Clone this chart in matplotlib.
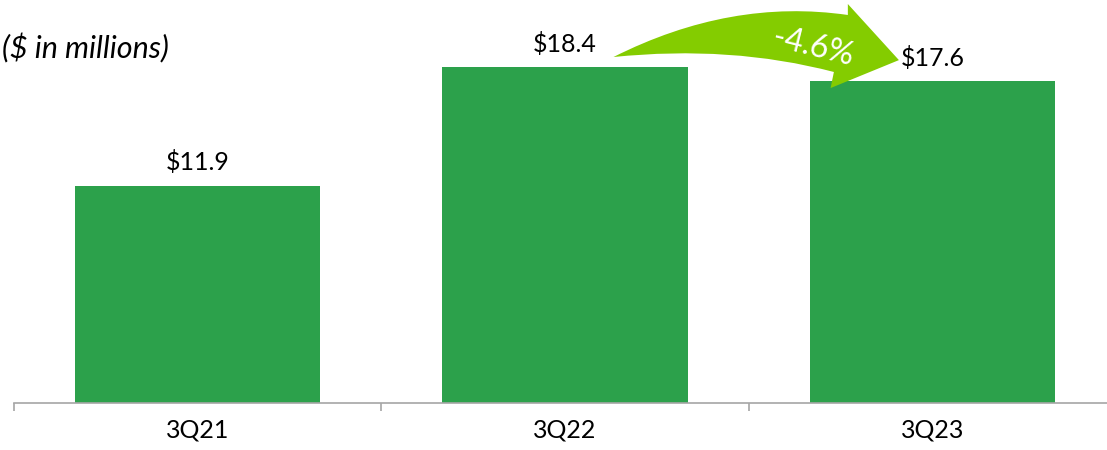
import matplotlib.pyplot as plt
from matplotlib.path import Path
from matplotlib.patches import PathPatch

quarters = ['3Q21', '3Q22', '3Q23']
revenue = [11.9, 18.4, 17.6]
value_labels = ['$11.9', '$18.4', '$17.6']
change_label = '-4.6%'

bar_green = '#2ca14b'
arrow_green = '#84cc00'

plt.rcParams['font.family'] = ['Lato', 'DejaVu Sans']

fig = plt.figure(figsize=(11.07, 4.5), dpi=100)
ax = fig.add_axes([14 / 1107, 47 / 450, 1102 / 1107, 403 / 450])

x = list(range(len(quarters)))
ax.bar(x, revenue, width=0.667, color=bar_green)

for xi, v, lab in zip(x, revenue, value_labels):
    ax.annotate(lab, (xi, v), xytext=(0, 11), textcoords='offset points',
                ha='center', va='baseline', fontsize=18, color='black')

ax.set_xlim(-0.5, 2.5)
ax.set_ylim(0, 22.06)
ax.set_yticks([])
for s in ['top', 'right', 'left']:
    ax.spines[s].set_visible(False)
ax.spines['bottom'].set_color('#a6a6a6')
ax.spines['bottom'].set_linewidth(1.2)

ax.set_xticks(x)
ax.set_xticklabels(quarters, fontsize=18)
ax.tick_params(axis='x', which='major', length=0, pad=11)
ax.set_xticks([-0.5, 0.5, 1.5, 2.5], minor=True)
ax.tick_params(axis='x', which='minor', length=6, color='#a6a6a6', width=1.2)

# curved arrow from 3Q22 to 3Q23
verts = [
    (1.132, 18.94),
    (1.451, 22.17), (1.770, 21.24),
    (1.770, 21.84),
    (1.909, 18.77),
    (1.723, 17.24),
    (1.732, 18.12),
    (1.451, 19.60), (1.132, 18.94),
    (1.132, 18.94),
]
codes = [Path.MOVETO, Path.CURVE3, Path.CURVE3, Path.LINETO, Path.LINETO,
         Path.LINETO, Path.LINETO, Path.CURVE3, Path.CURVE3, Path.CLOSEPOLY]
ax.add_patch(PathPatch(Path(verts, codes), facecolor=arrow_green,
                       edgecolor='none', clip_on=False, zorder=3))
ax.text(1.674, 19.49, change_label, color='white', fontsize=23, rotation=-14,
        ha='center', va='center', zorder=4)

fig.text(2 / 1107, 1 - 48 / 450, '($ in millions)', fontsize=22,
         style='italic', ha='left', va='center')

fig.savefig('out.png', dpi=100)
